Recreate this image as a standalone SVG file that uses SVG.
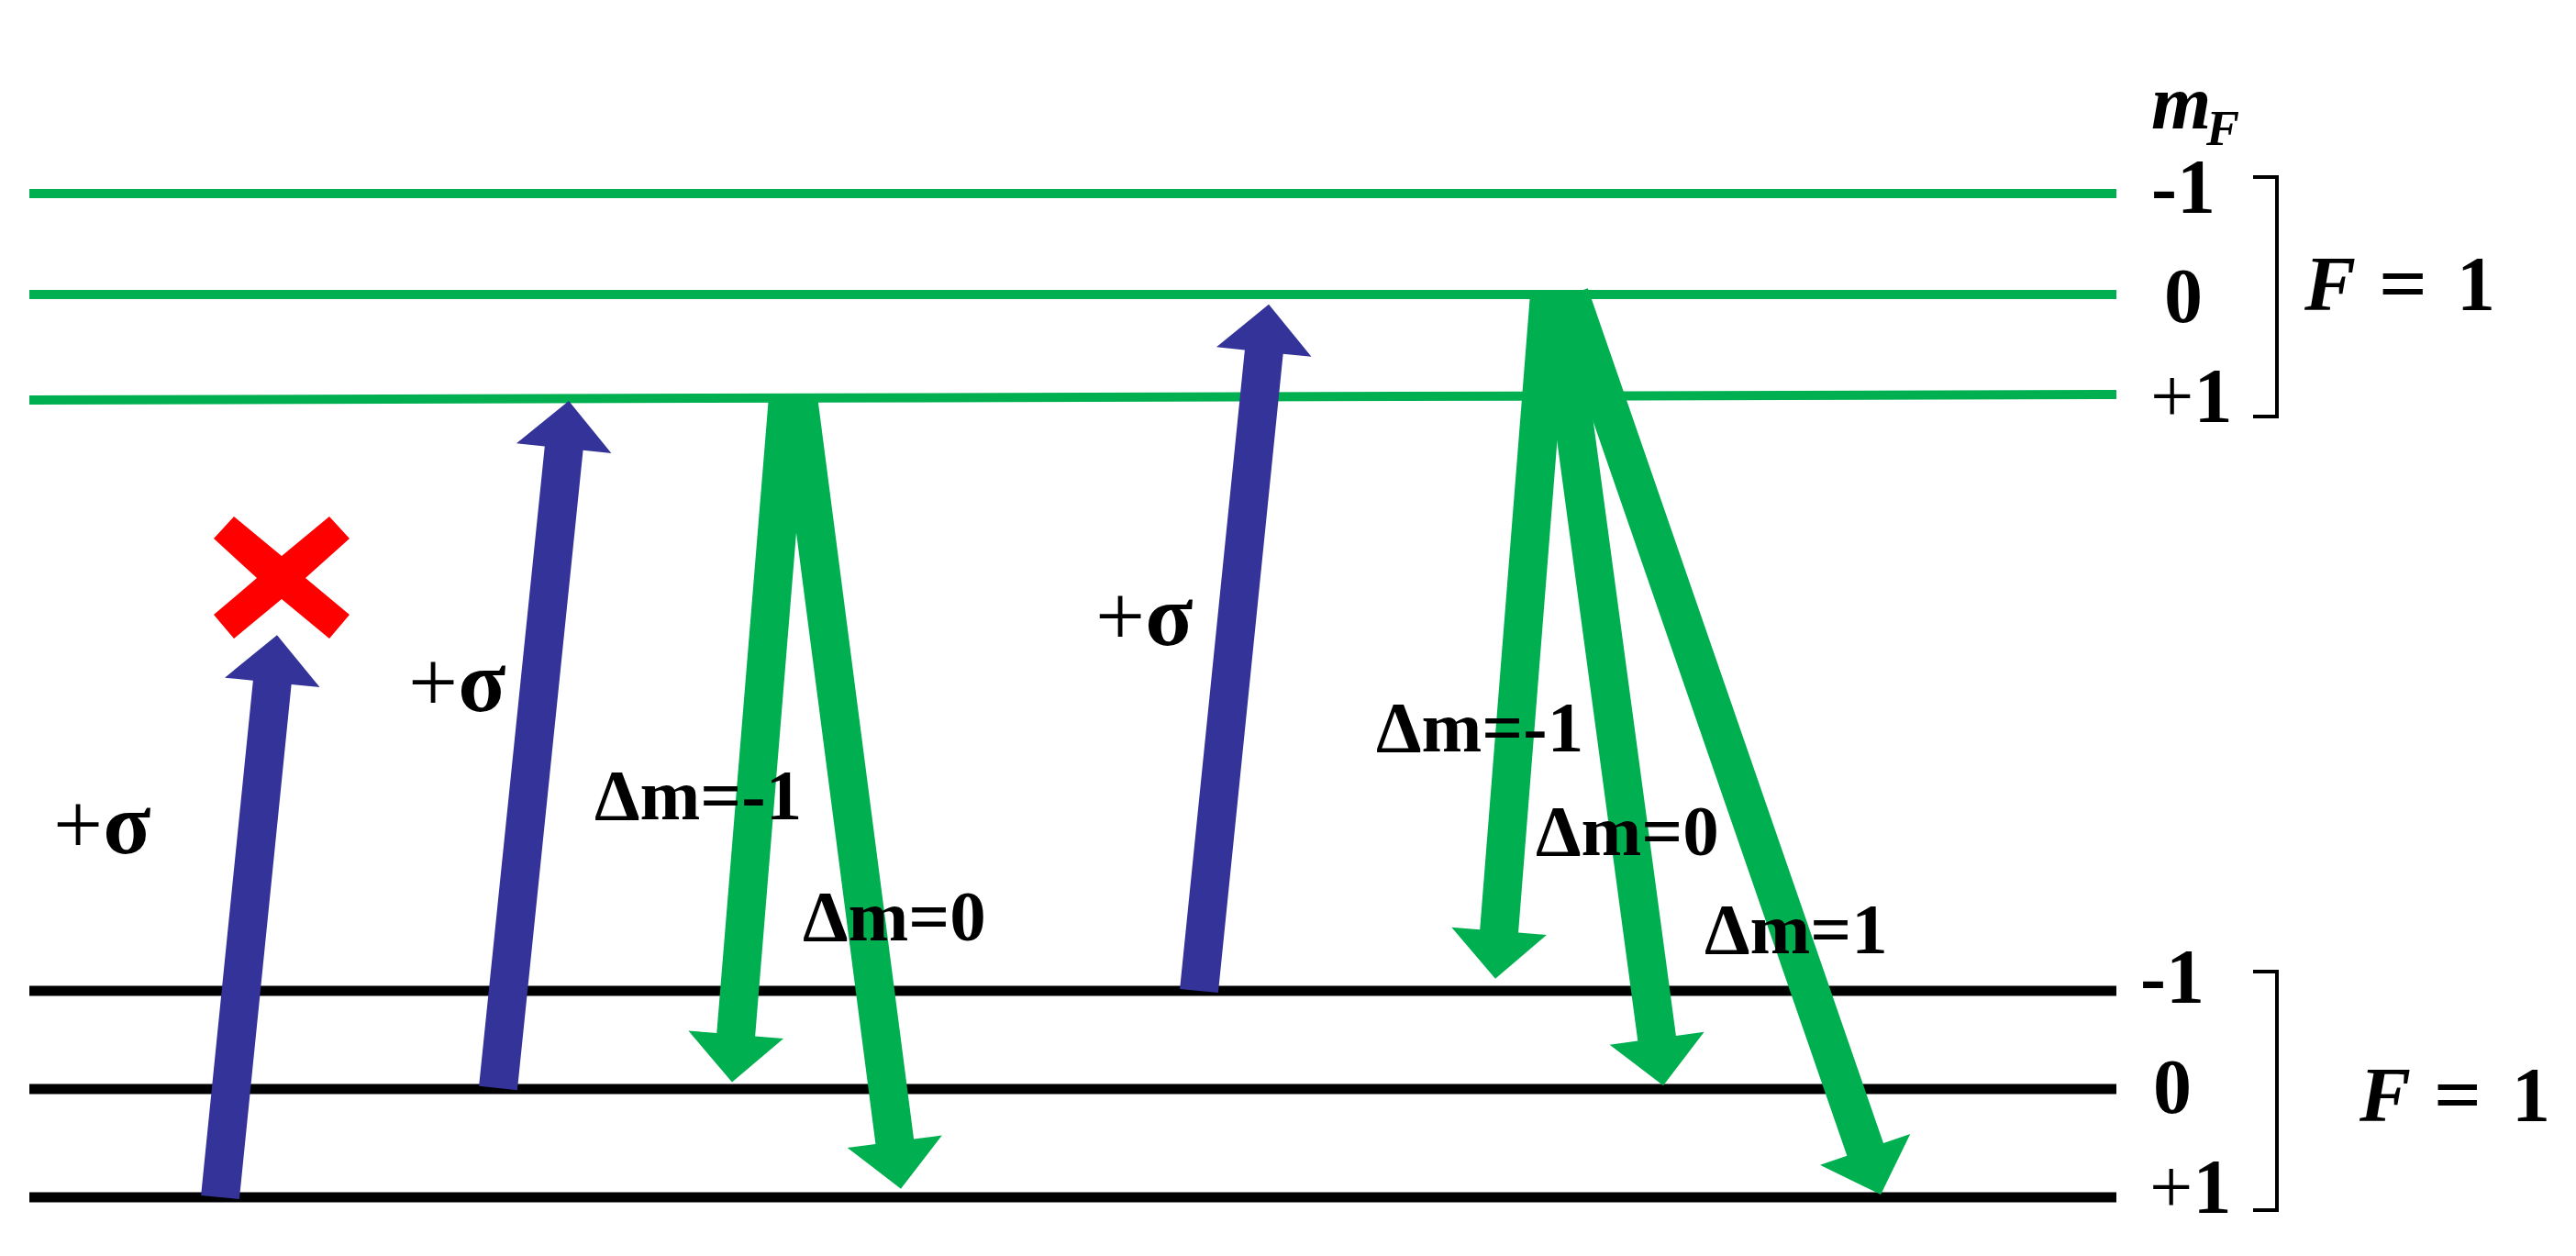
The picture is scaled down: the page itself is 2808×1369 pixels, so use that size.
<svg xmlns="http://www.w3.org/2000/svg" width="2808" height="1369" viewBox="0 0 2808 1369">
<style>
.ex{stroke:#00B050;stroke-width:10;fill:none}
.gr{stroke:#000;stroke-width:11;fill:none}
.br{stroke:#000;stroke-width:4;fill:none}
.blue{fill:#333399}
.green{fill:#00B050}
text{font-family:"Liberation Serif","Times New Roman",serif;font-weight:bold;fill:#000}
.lab{font-size:79px}
.sig{font-size:96px}
.num{font-size:84px}
.reg{font-weight:normal}
.it{font-style:italic}
</style>
<rect width="2808" height="1369" fill="#fff"/>
<g id="excited-levels">
  <g id="e-m-1"><line class="ex" x1="32" y1="211" x2="2307" y2="211"/></g>
  <g id="e-m0"><line class="ex" x1="32" y1="321" x2="2307" y2="321"/></g>
  <g id="e-m+1"><line class="ex" x1="32" y1="436" x2="2307" y2="430"/></g>
</g>
<g id="ground-levels">
  <g id="g-m-1"><line class="gr" x1="32" y1="1080" x2="2307" y2="1080"/></g>
  <g id="g-m0"><line class="gr" x1="32" y1="1187" x2="2307" y2="1187"/></g>
  <g id="g-m+1"><line class="gr" x1="32" y1="1305" x2="2307" y2="1305"/></g>
</g>
<g id="connectors">
  <polygon class="blue" transform="translate(240,1305) rotate(-174.225)" points="-21,0 21,0 21,564 52,564 0,616 -52,564 -21,564"/>
  <polygon class="blue" transform="translate(543,1186) rotate(-174.131)" points="-21,0 21,0 21,701 52,701 0,753 -52,701 -21,701"/>
  <polygon class="blue" transform="translate(1307,1080) rotate(-174.198)" points="-21,0 21,0 21,700 52,700 0,752 -52,700 -21,700"/>
  <polygon class="green" transform="translate(859,433) rotate(4.674)" points="-21,0 21,0 21,697 52,697 0,749 -52,697 -21,697"/>
  <polygon class="green" transform="translate(870,433) rotate(-7.394)" points="-21,0 21,0 21,818 52,818 0,870 -52,818 -21,818"/>
  <polygon class="green" transform="translate(1689,321) rotate(4.522)" points="-21,0 21,0 21,696 52,696 0,748 -52,696 -21,696"/>
  <polygon class="green" transform="translate(1697,321) rotate(-7.666)" points="-21,0 21,0 21,818 52,818 0,870 -52,818 -21,818"/>
  <polygon class="green" transform="translate(1711,321) rotate(-19.072)" points="-21,0 21,0 21,986 52,986 0,1038 -52,986 -21,986"/>
</g>
<g id="forbidden-mark">
  <polygon fill="#FF0000" points="255,563 307,606 359,563 381,587 333,630 381,670 359,696 307,653 255,696 233,670 280,630 233,587"/>
</g>
<g id="transition-labels">
  <text class="sig" x="58" y="930"><tspan class="reg">+</tspan>σ</text>
  <text class="sig" x="445" y="775"><tspan class="reg">+</tspan>σ</text>
  <text class="sig" x="1194" y="703"><tspan class="reg">+</tspan>σ</text>
  <text class="lab" x="648" y="893">Δm=-1</text>
  <text class="lab" x="875" y="1025">Δm=0</text>
  <text class="lab" x="1500" y="819">Δm=-1</text>
  <text class="lab" x="1674" y="932">Δm=0</text>
  <text class="lab" x="1858" y="1039">Δm=1</text>
</g>
<g id="mF-header">
  <text class="it" x="2345" y="140" font-size="84">m</text>
  <text class="it" x="2405" y="158" font-size="54">F</text>
</g>
<g id="excited-manifold">
  <text class="num" x="2345" y="232">-1</text>
  <text class="num" x="2380" y="351" text-anchor="middle">0</text>
  <text class="num" x="2344" y="460"><tspan class="reg">+</tspan>1</text>
  <path class="br" d="M2456,193 H2482 V454 H2456"/>
  <text class="num it" x="2512" y="338">F</text>
  <text class="num" x="2593" y="338" textLength="53" lengthAdjust="spacingAndGlyphs">=</text>
  <text class="num" x="2678" y="338">1</text>
</g>
<g id="ground-manifold">
  <text class="num" x="2333" y="1093">-1</text>
  <text class="num" x="2368" y="1213" text-anchor="middle">0</text>
  <text class="num" x="2343" y="1322"><tspan class="reg">+</tspan>1</text>
  <path class="br" d="M2456,1059 H2482 V1319 H2456"/>
  <text class="num it" x="2572" y="1222">F</text>
  <text class="num" x="2653" y="1222" textLength="52" lengthAdjust="spacingAndGlyphs">=</text>
  <text class="num" x="2738" y="1222">1</text>
</g>
</svg>
